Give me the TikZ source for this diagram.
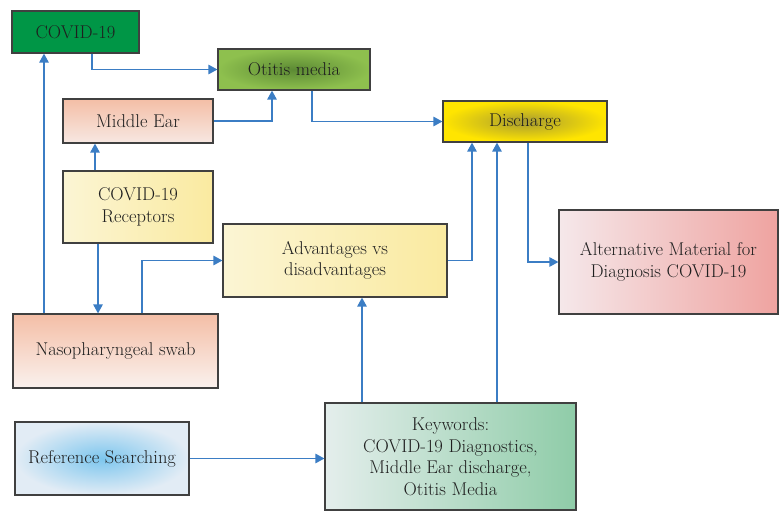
\documentclass[tikz,border=0pt]{standalone}
\usetikzlibrary{arrows.meta}

\definecolor{linkblue}{RGB}{59,125,196}
\definecolor{boxedge}{RGB}{64,64,64}
\definecolor{covidgreen}{RGB}{0,150,70}
\definecolor{otitislight}{RGB}{142,192,78}
\definecolor{otitisdark}{RGB}{92,138,52}
\definecolor{salmon}{RGB}{244,190,166}
\definecolor{salmonpale}{RGB}{247,232,226}
\definecolor{paleyellow}{RGB}{251,245,212}
\definecolor{midyellow}{RGB}{250,234,160}
\definecolor{dischyellow}{RGB}{255,229,0}
\definecolor{dischdark}{RGB}{168,156,48}
\definecolor{altpale}{RGB}{245,232,234}
\definecolor{altred}{RGB}{239,163,160}
\definecolor{refblue}{RGB}{125,198,238}
\definecolor{refpale}{RGB}{226,236,245}
\definecolor{keypale}{RGB}{228,238,236}
\definecolor{keygreen}{RGB}{143,204,168}

\begin{document}
\begin{tikzpicture}[x=1pt,y=-1pt,
    box/.style={draw=boxedge,line width=1.2pt,rectangle,inner sep=0pt,align=center,
      text=black!88,font=\fontsize{18.5}{21.5}\selectfont},
    conn/.style={draw=linkblue,line width=1.3pt,-{Triangle[length=9pt,width=9.5pt]}}]
  \useasboundingbox (0,0) rectangle (779,512);

  % boxes
  \node[box,fill=covidgreen,minimum width=127pt,minimum height=42pt] (covid) at (75.5,32) {COVID-19};
  \node[box,inner color=otitisdark,outer color=otitislight,minimum width=152pt,minimum height=41pt] (otitis) at (294,69.5) {Otitis media};
  \node[box,top color=salmon,bottom color=salmonpale,minimum width=150pt,minimum height=44pt] (middle) at (138,121) {Middle Ear};
  \node[box,left color=paleyellow,right color=midyellow,minimum width=150pt,minimum height=72pt] (recep) at (138,207) {COVID-19\\Receptors};
  \node[box,left color=paleyellow,right color=midyellow,minimum width=224pt,minimum height=73pt] (adv) at (335,260.5) {Advantages vs\\disadvantages};
  \node[box,inner color=dischdark,outer color=dischyellow,minimum width=164pt,minimum height=41pt] (disch) at (525,121.5) {Discharge};
  \node[box,left color=altpale,right color=altred,minimum width=219pt,minimum height=104pt] (alt) at (668.5,262) {Alternative Material for\\Diagnosis COVID-19};
  \node[box,top color=salmon,bottom color=salmonpale!60!white,minimum width=205pt,minimum height=74pt] (naso) at (115.5,351) {Nasopharyngeal swab};
  \node[box,inner color=refblue,outer color=refpale,minimum width=174pt,minimum height=73pt] (refs) at (102,458.5) {Reference Searching};
  \node[box,left color=keypale,right color=keygreen,minimum width=251pt,minimum height=107pt] (keyw) at (450.5,456.5) {Keywords:\\COVID-19 Diagnostics,\\Middle Ear discharge,\\Otitis Media};

  % connectors
  \draw[conn] ([xshift=16.5pt]covid.south) |- (otitis.west);
  \draw[conn] (middle.east) -| ([xshift=-22pt]otitis.south);
  \draw[conn] ([xshift=18pt]otitis.south) |- (disch.west);
  \draw[conn] ([xshift=-43pt]recep.north) -- ([xshift=-43pt]middle.south);
  \draw[conn] ([xshift=-40pt]recep.south) -- ([xshift=-17.5pt]naso.north);
  \draw[conn] ([xshift=-71.5pt]naso.north) -- ([xshift=-31.5pt]covid.south);
  \draw[conn] ([xshift=26.5pt]naso.north) |- (adv.west);
  \draw[conn] (adv.east) -| ([xshift=-53pt]disch.south);
  \draw[conn] ([xshift=46.5pt]keyw.north) -- ([xshift=-28pt]disch.south);
  \draw[conn] ([xshift=-88.5pt]keyw.north) -- ([xshift=27pt]adv.south);
  \draw[conn] (refs.east) -- (refs.east -| keyw.west);
  \draw[conn] ([xshift=3pt]disch.south) |- (alt.west);
\end{tikzpicture}
\end{document}
